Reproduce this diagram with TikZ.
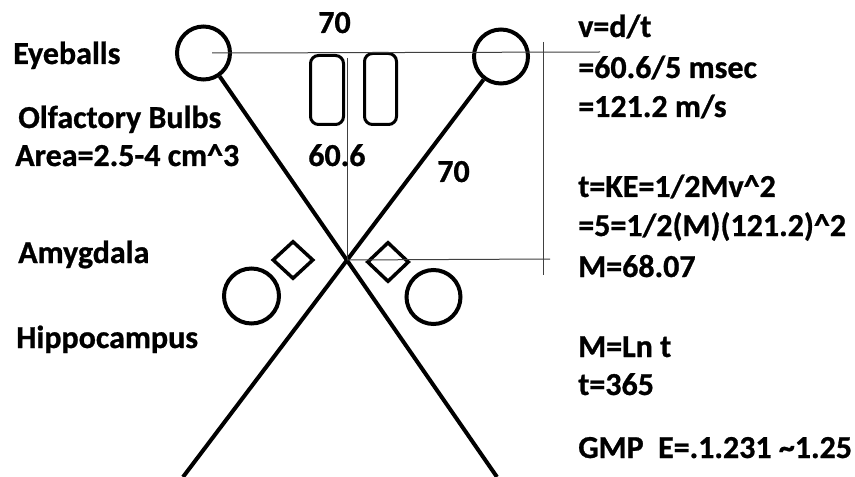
\documentclass[tikz,border=0pt]{standalone}
\usepackage{fontspec}
\setmainfont{Carlito}[BoldFeatures={FakeBold=0.8}]
\usetikzlibrary{shapes.geometric}
\begin{document}
\begin{tikzpicture}[x=0.75pt,y=-0.75pt,
  lbl/.style={anchor=base west,inner sep=0pt,font=\fontsize{24}{28}\selectfont\bfseries},
  heavy/.style={line width=3pt},
  guide/.style={draw=black!75,line width=0.75pt},
  ring/.style={circle,draw,line width=3pt,inner sep=0pt},
  bulb/.style={rectangle,draw,rounded corners=6pt,line width=2.25pt,inner sep=0pt},
  gem/.style={diamond,draw,line width=2.6pt,inner sep=0pt}]
\useasboundingbox[fill=white] (0,0) rectangle (855,477);

% eyeballs
\node[ring,minimum size=39.75pt] (eyeL) at (203.5,53) {};
\node[ring,minimum size=40.5pt] (eyeR) at (501,56.5) {};
% olfactory bulbs
\node[bulb,minimum width=24.75pt,minimum height=51.75pt] (bulbL) at (327,90) {};
\node[bulb,minimum width=24pt,minimum height=53.25pt] (bulbR) at (380.5,89) {};
% amygdala
\node[gem,minimum width=30.75pt,minimum height=28.5pt] (amyL) at (293,260) {};
\node[gem,minimum width=31.5pt,minimum height=30pt] (amyR) at (388,262) {};
% hippocampus
\node[ring,minimum size=41.25pt] (hipL) at (251.5,296) {};
\node[ring,minimum size=40.5pt] (hipR) at (433.5,297) {};

% X lines
\coordinate (bR) at (497,477);
\coordinate (bL) at (183,477);
\coordinate (C) at (347,260);
\draw[heavy] (eyeL) -- (bR);
\draw[heavy] (eyeR) -- (bL);

% thin guide lines
\coordinate (hA) at (212,53);
\coordinate (hB) at (600,52);
\coordinate (vTop) at (347,58);
\coordinate (hC) at (550,259);
\coordinate (v2a) at (543,42);
\coordinate (v2b) at (543,275);
\draw[guide] (hA) -- (hB);
\draw[guide] (vTop) -- (C);
\draw[guide] (C) -- (hC);
\draw[guide] (v2a) -- (v2b);

% left labels
\node[lbl] (t1) at (13,64) {Eyeballs};
\node[lbl] (t2) at (18,128) {Olfactory Bulbs};
\node[lbl] (t3) at (15,166) {Area=2.5-4 cm\textasciicircum 3};
\node[lbl] (t4) at (18,263) {Amygdala};
\node[lbl] (t5) at (16,348) {Hippocampus};

% measures
\node[lbl] (m1) at (318,33) {70};
\node[lbl] (m2) at (308,166) {60.6};
\node[lbl] (m3) at (437,182) {70};

% right column
\node[lbl] (r1) at (578,37) {v=d/t};
\node[lbl] (r2) at (578,78) {=60.6/5 msec};
\node[lbl] (r3) at (578,117) {=121.2 m/s};
\node[lbl] (r4) at (578,197) {t=KE=1/2Mv\textasciicircum 2};
\node[lbl] (r5) at (578,236) {=5=1/2(M)(121.2)\textasciicircum 2};
\node[lbl] (r6) at (578,277) {M=68.07};
\node[lbl] (r7) at (578,357) {M=Ln t};
\node[lbl] (r8) at (578,395) {t=365};
\node[lbl] (r9) at (578,458) {GMP\ \ E=.1.231 \textasciitilde 1.25};
\end{tikzpicture}
\end{document}
